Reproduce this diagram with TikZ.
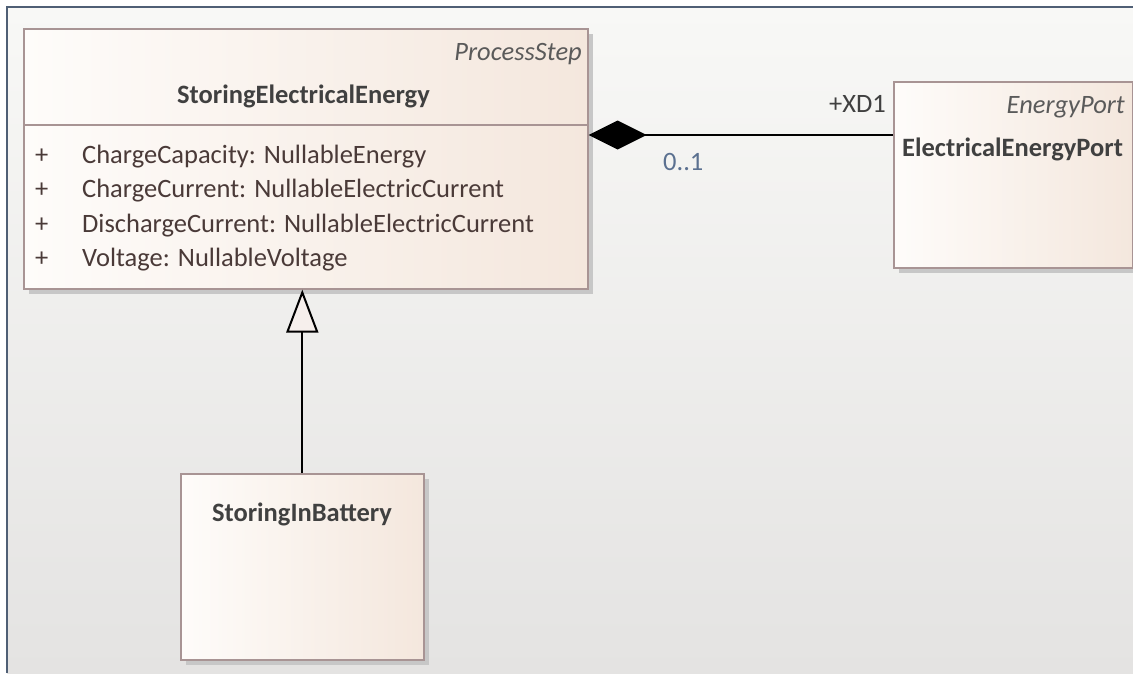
\documentclass[tikz,border=0pt]{standalone}
\usepackage{fontspec}
\setmainfont{Carlito}
\usetikzlibrary{arrows.meta,shadows,calc}
\definecolor{frameblue}{HTML}{4F5F75}
\definecolor{boxborder}{HTML}{A89494}
\definecolor{boxleft}{HTML}{FEFCFA}
\definecolor{boxright}{HTML}{F4E7DD}
\definecolor{bgtop}{HTML}{F8F8F6}
\definecolor{bgbot}{HTML}{E4E3E2}
\definecolor{attrcol}{HTML}{4A3A38}
\definecolor{namecol}{HTML}{404040}
\definecolor{stereocol}{HTML}{5A5A5A}
\definecolor{multcol}{HTML}{5B7090}
\definecolor{trifill}{HTML}{F6EFEC}
\tikzset{
  umlbox/.style={draw=boxborder, line width=1.6pt, left color=boxleft, right color=boxright,
    anchor=north west, inner sep=0pt, rectangle,
    drop shadow={shadow xshift=5pt, shadow yshift=-5pt, fill=black!22, opacity=1}},
  stereo/.style={font=\fontsize{26.5}{30}\selectfont\itshape, text=stereocol, inner sep=0pt},
  cname/.style={font=\fontsize{26.5}{30}\selectfont\bfseries, text=namecol, inner sep=0pt},
  attr/.style={font=\fontsize{26.5}{30}\selectfont, text=attrcol, inner sep=0pt, anchor=base west},
  mult/.style={font=\fontsize{26.5}{30}\selectfont, inner sep=0pt, anchor=base west},
  conn/.style={line width=2pt, black},
}
\begin{document}
\begin{tikzpicture}[x=1pt,y=-1pt]
\useasboundingbox (0,0) rectangle (1133,673);
\fill[white] (0,0) rectangle (1133,673);
\shade[top color=bgtop, bottom color=bgbot] (7,7) rectangle (1133,673);
\draw[frameblue, line width=2pt] (7,673) -- (7,7) -- (1133,7);
% main class
\node[umlbox, minimum width=564pt, minimum height=260pt] (big) at (23,28) {};
\draw[boxborder, line width=1.6pt] (big.west |- 0,125) -- (big.east |- 0,125);
\node[stereo, anchor=base east] (ps) at (582,60) {ProcessStep};
\node[cname, anchor=base] (bigname) at (303.5,103) {StoringElectricalEnergy};
\node[attr] (p1) at (35,163) {+};
\node[attr] (a1) at (82,163) {ChargeCapacity: NullableEnergy};
\node[attr] (p2) at (35,197.5) {+};
\node[attr] (a2) at (82,197.5) {ChargeCurrent: NullableElectricCurrent};
\node[attr] (p3) at (35,232) {+};
\node[attr] (a3) at (82,232) {DischargeCurrent: NullableElectricCurrent};
\node[attr] (p4) at (35,266) {+};
\node[attr] (a4) at (82,266) {Voltage: NullableVoltage};
% port class
\node[umlbox, minimum width=239pt, minimum height=186pt] (port) at (893,81) {};
\node[stereo, anchor=base east] (eps) at (1125,113) {EnergyPort};
\node[cname, anchor=base west] (portname) at (902,156) {ElectricalEnergyPort};
% battery class
\node[umlbox, minimum width=243pt, minimum height=186pt] (batt) at (180,473) {};
\node[cname, anchor=base] (battname) at (302,521) {StoringInBattery};
% composition
\coordinate (cp) at ($(port.north west)+(0,54)$);
\draw[conn, -{Diamond[length=58pt, width=29pt, fill=black, line width=0pt]}] (cp) -- (cp -| big.east);
\node[mult, text=namecol] (xd1) at (829,112) {+XD1};
\node[mult, text=multcol] (m01) at (663,170) {0..1};
% generalization
\draw[conn, -{Triangle[open, length=43pt, width=32pt, fill=trifill, line width=2pt]}] (batt.north) -- (batt.north |- big.south);
\end{tikzpicture}
\end{document}
